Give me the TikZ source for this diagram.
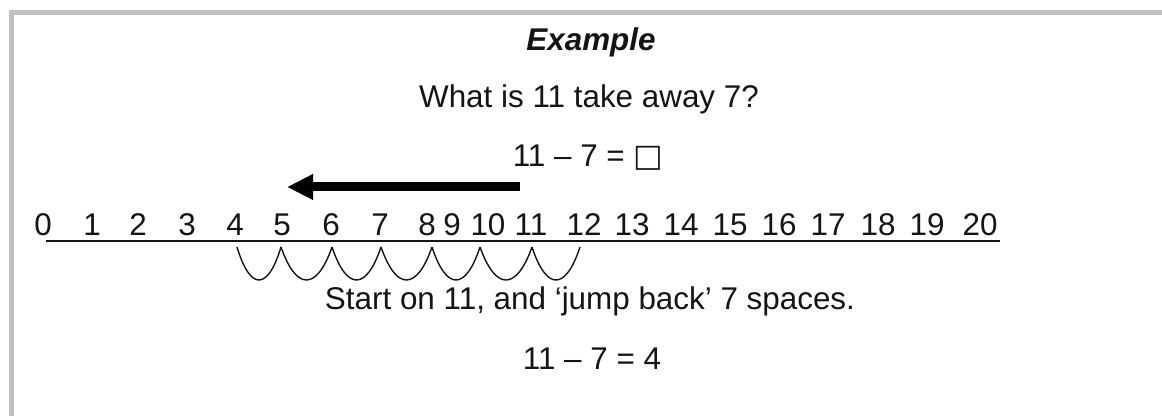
\documentclass[tikz,border=0pt]{standalone}
\usepackage{fontspec}
\setmainfont{Liberation Sans}
\newfontfamily\symfont{DejaVu Sans}
\usetikzlibrary{arrows.meta}
\definecolor{myframe}{RGB}{192,192,192}
\definecolor{mydark}{RGB}{20,20,20}
\tikzset{
  txt/.style={anchor=base, inner sep=0pt,
    font=\fontsize{15.7}{18}\selectfont, text=mydark},
  numlabel/.style={anchor=base, inner sep=0pt,
    font=\fontsize{15.7}{18}\selectfont, text=mydark},
  frameline/.style={draw=myframe, line width=2.5pt},
  bigarrow/.style={-{Triangle[length=13pt,width=12pt]}, line width=4.5pt, color=black},
  jump/.style={line width=0.7pt, color=mydark},
  axis/.style={line width=1pt, color=mydark}
}

\begin{document}
\begin{tikzpicture}[x=0.5pt, y=-0.5pt]
  \useasboundingbox (0,0) rectangle (1162,416);
  % frame
  \draw[frameline] (11,416) -- (11,13) -- (1162,13);

  \node[txt, font=\fontsize{15.7}{18}\selectfont\bfseries\itshape] (title) at (591,51) {Example};
  \node[txt] (question) at (589,108) {What is 11 take away 7?};
  \node[txt] (sum) at (588,167) {11 -- 7 = {\symfont □}};

  % arrow
  \coordinate (arrstart) at (520,187);
  \coordinate (arrend) at (287,187);
  \draw[bigarrow] (arrstart) -- (arrend);

  % number line
  \foreach \n/\x in {0/43,1/92,2/138,3/187,4/235,5/282,6/331,7/380,8/427,9/452,
      10/488,11/531,12/584,13/632,14/681,15/730,16/779,17/828,18/878,19/927,20/980}
    \node[numlabel] (n\n) at (\x,236) {\n};
  \coordinate (lstart) at (46,241);
  \coordinate (lend) at (1000,241);
  \draw[axis] (lstart) -- (lend);

  % jumps
  \foreach \a/\b in {237/281,281/332,332/381,381/432,432/480,480/532,532/580}
    \draw[jump] (\a,247) .. controls ({\a+0.3*(\b-\a)},291) and ({\b-0.3*(\b-\a)},291) .. (\b,247);

  \node[txt] (hint) at (590,310) {Start on 11, and ‘jump back’ 7 spaces.};
  \node[txt] (answer) at (592,370) {11 -- 7 = 4};
\end{tikzpicture}
\end{document}
